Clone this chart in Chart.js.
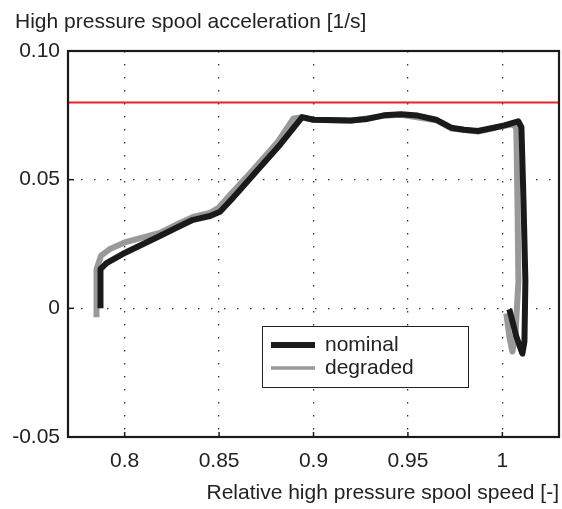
<!DOCTYPE html>
<html>
<head>
<meta charset="utf-8">
<script src="https://cdn.jsdelivr.net/npm/chart.js@4/dist/chart.umd.min.js"></script>
<style>
  body { margin: 0; background: #fff; }
  canvas { display: block; }
</style>
</head>
<body>
<canvas id="myChart" width="562" height="509"></canvas>
<script>
// values
const nominalSpeed = [0.7872, 0.7872, 0.7904, 0.7989, 0.8186, 0.8293, 0.8362, 0.8452, 0.8505, 0.8574, 0.8691, 0.8824, 0.8940, 0.9000, 0.9197, 0.9286, 0.9372, 0.9463, 0.9552, 0.9649, 0.9729, 0.9798, 0.9871, 0.9941, 1.0011, 1.0084, 1.0101, 1.0112, 1.0122, 1.0117, 1.0106, 1.0074, 1.0037];
const nominalAccel = [0, 0.0152, 0.0176, 0.0211, 0.0281, 0.0320, 0.0344, 0.0359, 0.0375, 0.0430, 0.0527, 0.0637, 0.0743, 0.0733, 0.0730, 0.0736, 0.0750, 0.0754, 0.0749, 0.0733, 0.0702, 0.0694, 0.0689, 0.0700, 0.0711, 0.0727, 0.0704, 0.0418, 0.0105, -0.0129, -0.0176, -0.0109, -0.0004];

const degradedSpeed = [0.7851, 0.7851, 0.7875, 0.7925, 0.8000, 0.8186, 0.8293, 0.8362, 0.8452, 0.8495, 0.8559, 0.8676, 0.8809, 0.8894, 0.8931, 0.9000, 0.9197, 0.9372, 0.9463, 0.9649, 0.9729, 0.9870, 1.0011, 1.0059, 1.0074, 1.0080, 1.0085, 1.0069, 1.0053, 1.0037, 1.0021];
const degradedAccel = [-0.0035, 0.0152, 0.0205, 0.0232, 0.0256, 0.0293, 0.0332, 0.0355, 0.0371, 0.0389, 0.0441, 0.0535, 0.0645, 0.0738, 0.0742, 0.0733, 0.0729, 0.0748, 0.0752, 0.0731, 0.0699, 0.0687, 0.0709, 0.0715, 0.0699, 0.0418, 0.0105, -0.0109, -0.0168, -0.0109, -0.0020];

const limitSpeed = [0.77, 1.03];
const limitAccel = [0.08, 0.08];

const xTicks = [0.8, 0.85, 0.9, 0.95, 1];
const xTickLabels = ['0.8', '0.85', '0.9', '0.95', '1'];
const yTicks = [-0.05, 0, 0.05, 0.1];
const yTickLabels = ['-0.05', '0', '0.05', '0.10'];

const yTitle = 'High pressure spool acceleration [1/s]';
const xTitle = 'Relative high pressure spool speed [-]';

function points(xs, ys) {
  return xs.map((x, i) => ({ x: x, y: ys[i] }));
}

const FONT = '"Liberation Sans", Arial, sans-serif';
const TEXT = '#222';

// frame, inner ticks, axis titles and the boxed legend
const decor = {
  id: 'decor',
  afterDraw(chart) {
    const c = chart.ctx, a = chart.chartArea;
    const xs = chart.scales.x, ys = chart.scales.y;
    c.save();
    c.strokeStyle = '#1a1a1a';
    c.lineWidth = 1.5;
    xTicks.forEach(v => {
      const px = xs.getPixelForValue(v);
      c.beginPath(); c.moveTo(px, a.bottom); c.lineTo(px, a.bottom - 5); c.stroke();
    });
    yTicks.forEach(v => {
      const py = ys.getPixelForValue(v);
      c.beginPath(); c.moveTo(a.left, py); c.lineTo(a.left + 6, py); c.stroke();
    });
    c.lineWidth = 2.2;
    c.strokeRect(a.left, a.top, a.right - a.left, a.bottom - a.top);

    c.fillStyle = TEXT;
    c.font = '21px ' + FONT;
    c.textBaseline = 'middle';
    c.textAlign = 'left';
    c.fillText(yTitle, 15, 22);
    c.textAlign = 'right';
    c.fillText(xTitle, a.right, 493);

    // legend
    const bx = 262, by = 326, bw = 206, bh = 61;
    c.fillStyle = '#fff';
    c.fillRect(bx, by, bw, bh);
    c.strokeStyle = '#222';
    c.lineWidth = 1;
    c.strokeRect(bx + 0.5, by + 0.5, bw, bh);
    const items = chart.data.datasets.filter(d => d.inLegend);
    items.forEach((d, i) => {
      const cy = 345 + i * 23;
      c.strokeStyle = d.borderColor;
      c.lineWidth = d.legendWidth;
      c.beginPath(); c.moveTo(271, cy); c.lineTo(315, cy); c.stroke();
      c.fillStyle = TEXT;
      c.textAlign = 'left';
      c.fillText(d.label, 325, cy);
    });
    c.restore();
  }
};

const ctx = document.getElementById('myChart').getContext('2d');
const myChart = new Chart(ctx, {
  type: 'scatter',
  data: {
    datasets: [{
      label: 'nominal',
      data: points(nominalSpeed, nominalAccel),
      showLine: true,
      borderColor: '#1a1a1a',
      borderWidth: 6,
      pointRadius: 0,
      borderJoinStyle: 'round',
      inLegend: true,
      legendWidth: 6
    }, {
      label: 'degraded',
      data: points(degradedSpeed, degradedAccel),
      showLine: true,
      borderColor: '#999999',
      borderWidth: 6,
      pointRadius: 0,
      borderJoinStyle: 'round',
      inLegend: true,
      legendWidth: 3.5
    }, {
      label: 'limit',
      data: points(limitSpeed, limitAccel),
      showLine: true,
      borderColor: '#e8202a',
      borderWidth: 2,
      pointRadius: 0
    }]
  },
  options: {
    responsive: false,
    animation: false,
    events: [],
    layout: { padding: { top: 51, right: 3, left: 0, bottom: 0 } },
    plugins: {
      legend: { display: false },
      tooltip: { enabled: false }
    },
    scales: {
      x: {
        type: 'linear',
        min: 0.77,
        max: 1.03,
        afterBuildTicks: s => { s.ticks = xTicks.map(v => ({ value: v })); },
        afterFit: s => { s.height = 72; },
        grid: { color: '#333', lineWidth: 1.3, drawTicks: false },
        border: { display: false, dash: [1.5, 11.5] },
        ticks: {
          padding: 12,
          color: TEXT,
          font: { family: FONT, size: 21 },
          callback: (v, i) => xTickLabels[i]
        }
      },
      y: {
        min: -0.05,
        max: 0.1,
        afterBuildTicks: s => { s.ticks = yTicks.map(v => ({ value: v })); },
        afterFit: s => { s.width = 68; },
        grid: { color: '#333', lineWidth: 1.3, drawTicks: false },
        border: { display: false, dash: [1.5, 11.5] },
        ticks: {
          padding: 8,
          color: TEXT,
          font: { family: FONT, size: 21 },
          callback: (v, i) => yTickLabels[i]
        }
      }
    }
  },
  plugins: [decor]
});
</script>
</body>
</html>
